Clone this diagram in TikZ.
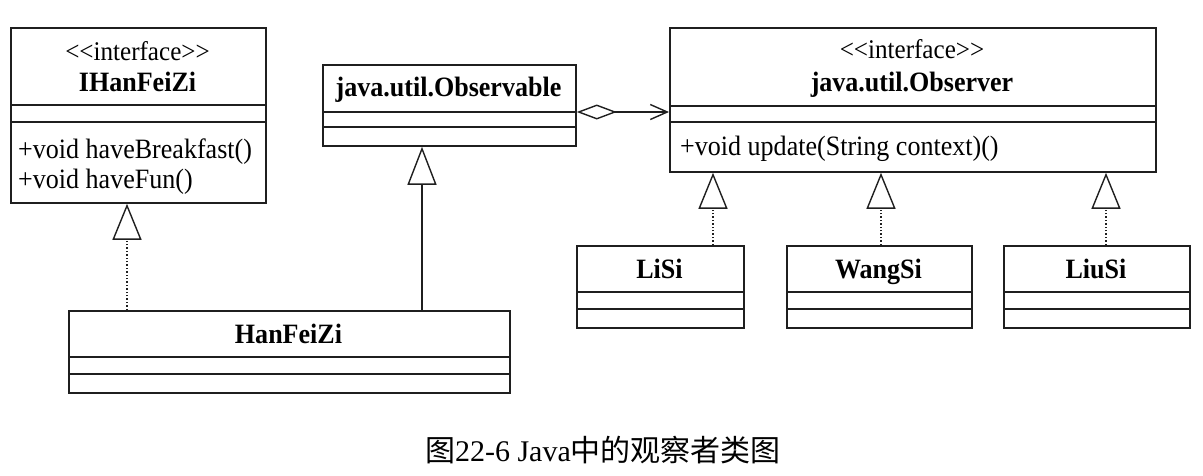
\documentclass[tikz,border=0pt]{standalone}
\usepackage{fontspec}
\setmainfont{Liberation Serif}[FakeStretch=0.93]
\newfontfamily\capfont{Liberation Serif}
\newfontfamily\cjk{Noto Sans CJK SC}
\usetikzlibrary{arrows.meta}
\begin{document}
\begin{tikzpicture}[x=1pt,y=-1pt,
  box/.style={draw=black!88, line width=1.8pt, rectangle, inner sep=0pt, anchor=north west},
  div/.style={draw=black!88, line width=1.8pt},
  stereo/.style={font=\fontsize{27}{29}\selectfont, inner sep=0pt, anchor=base},
  cname/.style={font=\fontsize{28}{30}\selectfont\bfseries, inner sep=0pt, anchor=base},
  meth/.style={font=\fontsize{28}{30}\selectfont, inner sep=0pt, anchor=base west},
  realize/.style={draw=black!88, line width=1.4pt, dotted, -{Triangle[open, length=36pt, width=29pt]}},
  general/.style={draw=black!88, line width=1.4pt, -{Triangle[open, length=38pt, width=29pt]}},
  aggr/.style={draw=black!88, line width=1.4pt, {Diamond[open, length=40pt, width=15pt]}-{Straight Barb[length=17pt, width=15pt]}},
]
\fill[white] (0,0) rectangle (1203,475);
\useasboundingbox (0,0) rectangle (1203,475);

% IHanFeiZi
\node[box, minimum width=255pt, minimum height=175pt] (ihf) at (10,27) {};
\draw[div] (ihf.west |- 0,105) -- (ihf.east |- 0,105);
\draw[div] (ihf.west |- 0,122) -- (ihf.east |- 0,122);
\node[stereo] (ihfs) at (137.5,60) {<\kern0pt<interface>\kern0pt>};
\node[cname] (ihfn) at (137.5,91) {IHanFeiZi};
\node[meth] (ihfm1) at (18,158) {+void haveBreakfast()};
\node[meth] (ihfm2) at (18,188) {+void haveFun()};

% java.util.Observable
\node[box, minimum width=253pt, minimum height=81pt] (obs) at (322,64) {};
\draw[div] (obs.west |- 0,112) -- (obs.east |- 0,112);
\draw[div] (obs.west |- 0,127) -- (obs.east |- 0,127);
\node[cname] (obsn) at (448.5,96) {java.util.Observable};

% java.util.Observer
\node[box, minimum width=486pt, minimum height=144pt] (obsr) at (669,27) {};
\draw[div] (obsr.west |- 0,106) -- (obsr.east |- 0,106);
\draw[div] (obsr.west |- 0,122) -- (obsr.east |- 0,122);
\node[stereo] (obsrs) at (912,58) {<\kern0pt<interface>\kern0pt>};
\node[cname] (obsrn) at (912,91) {java.util.Observer};
\node[meth] (obsrm) at (680,155) {+void update(String context)()};

% LiSi, WangSi, LiuSi
\node[box, minimum width=167pt, minimum height=82pt] (lisi) at (576,245) {};
\draw[div] (lisi.west |- 0,292) -- (lisi.east |- 0,292);
\draw[div] (lisi.west |- 0,309) -- (lisi.east |- 0,309);
\node[cname] (lisin) at (659.5,278) {LiSi};

\node[box, minimum width=185pt, minimum height=82pt] (wangsi) at (786,245) {};
\draw[div] (wangsi.west |- 0,292) -- (wangsi.east |- 0,292);
\draw[div] (wangsi.west |- 0,309) -- (wangsi.east |- 0,309);
\node[cname] (wangsin) at (878.5,278) {WangSi};

\node[box, minimum width=186pt, minimum height=82pt] (liusi) at (1003,245) {};
\draw[div] (liusi.west |- 0,292) -- (liusi.east |- 0,292);
\draw[div] (liusi.west |- 0,309) -- (liusi.east |- 0,309);
\node[cname] (liusin) at (1096,278) {LiuSi};

% HanFeiZi
\node[box, minimum width=441pt, minimum height=82pt] (hfz) at (68,310) {};
\draw[div] (hfz.west |- 0,357) -- (hfz.east |- 0,357);
\draw[div] (hfz.west |- 0,374) -- (hfz.east |- 0,374);
\node[cname] (hfzn) at (288.5,343) {HanFeiZi};

% connectors
\draw[realize] (127,0 |- hfz.north) -- (127,0 |- ihf.south);
\draw[general] (422,0 |- hfz.north) -- (422,0 |- obs.south);
\draw[aggr] (obs.east |- 0,112) -- (obsr.west |- 0,112);
\draw[realize] (713,0 |- lisi.north) -- (713,0 |- obsr.south);
\draw[realize] (881,0 |- wangsi.north) -- (881,0 |- obsr.south);
\draw[realize] (1106,0 |- liusi.north) -- (1106,0 |- obsr.south);

% caption
\node[font=\fontsize{30}{32}\selectfont, inner sep=0pt, anchor=base] (cap) at (603,461) {{\cjk 图}{\capfont 22-6 Java}{\cjk 中的观察者类图}};
\end{tikzpicture}
\end{document}
